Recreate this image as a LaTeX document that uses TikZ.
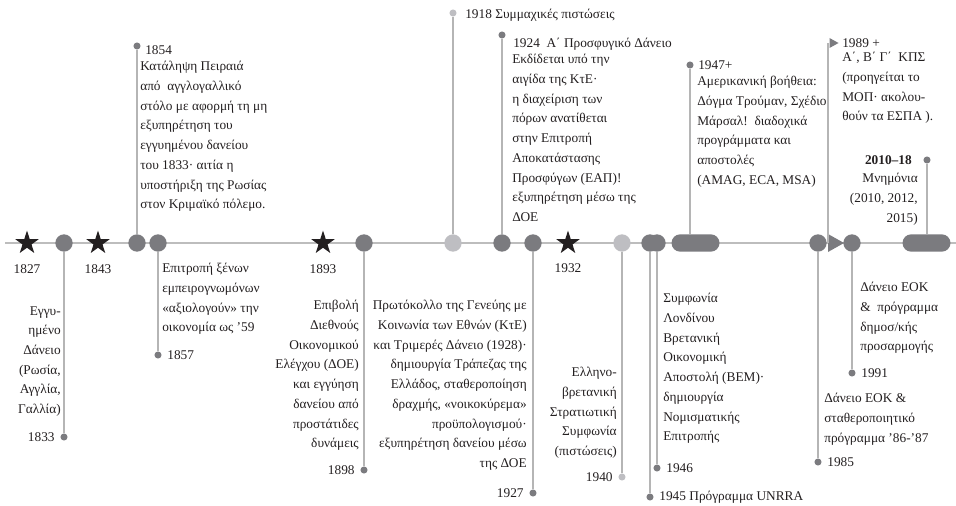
\documentclass[tikz,border=0pt]{standalone}
\usepackage{fontspec}
\setmainfont{Liberation Serif}
\usetikzlibrary{positioning,shapes.geometric,shapes.misc}

\definecolor{axisgray}{HTML}{BDBDBD}
\definecolor{stemgray}{HTML}{B5B5B5}
\definecolor{dotdark}{HTML}{7B7B7F}
\definecolor{dotlight}{HTML}{BEBEC2}
\definecolor{ink}{HTML}{231F20}

\tikzset{
  bigdot/.style={circle, fill=dotdark, minimum size=13pt, inner sep=0pt},
  lightdot/.style={bigdot, fill=dotlight},
  enddot/.style={circle, fill=dotdark, minimum size=5.3pt, inner sep=0pt},
  lightend/.style={enddot, fill=dotlight},
  starmark/.style={star, star points=5, star point ratio=2.6, fill=ink, minimum size=18.5pt, inner sep=0pt},
  pill/.style={rounded rectangle, fill=dotdark, minimum width=36pt, minimum height=13pt, inner sep=0pt},
  stem/.style={draw=stemgray, line width=1.1pt},
  yr/.style={inner sep=0pt, text=ink, font=\fontsize{10}{14.8}\selectfont},
  desc/.style={yr, execute at begin node=\strut},
}

\begin{document}
\begin{tikzpicture}[x=0.75pt, y=-0.75pt]
\useasboundingbox (0,0) rectangle (956,506);

% the time axis
\draw[axisgray, line width=1.65pt] (5,243) coordinate (a0) -- (956,243) coordinate (a1);

% marks on the axis
\node[starmark] (s1827) at (27,243) {};
\node[starmark] (s1843) at (98,243) {};
\node[starmark] (s1893) at (323,243) {};
\node[starmark] (s1932) at (568,243) {};
\node[bigdot] (m1833) at (64,243) {};
\node[bigdot] (m1854) at (137,243) {};
\node[bigdot] (m1857) at (158,243) {};
\node[bigdot] (m1898) at (364,243) {};
\node[lightdot] (m1918) at (453,243) {};
\node[bigdot] (m1924) at (502,243) {};
\node[bigdot] (m1927) at (533,243) {};
\node[lightdot] (m1940) at (622,243) {};
\node[bigdot] (m1945) at (650,243) {};
\node[bigdot] (m1946) at (657,243) {};
\node[pill] (p1947) at (695.5,243) {};
\node[bigdot] (m1985) at (818,243) {};
\node[bigdot] (m1991) at (852,243) {};
\node[pill] (p2010) at (926.5,243) {};
\fill[dotdark] (828,234) coordinate (c1989) -- (844,243) -- (828,252) -- cycle;
\coordinate (b1989) at (828,243);

% ends of the stems
\node[enddot] (e1833) at (64,437) {};
\node[enddot] (e1854) at (137,46) {};
\node[enddot] (e1857) at (158,355) {};
\node[enddot] (e1898) at (364,470) {};
\node[lightend] (e1918) at (453,13) {};
\node[enddot] (e1924) at (502,35) {};
\node[enddot] (e1927) at (533,493) {};
\node[lightend] (e1940) at (622,477) {};
\node[enddot] (e1945) at (650,497) {};
\node[enddot] (e1946) at (657,468) {};
\node[enddot] (e1947) at (690,65) {};
\node[enddot] (e1985) at (818,462) {};
\node[enddot] (e1991) at (852,373) {};
\node[enddot] (e2010) at (927,160) {};
\coordinate (t1989) at (828,43);
\fill[dotdark] (t1989) ++(1.5,-5) -- ++(9,5) -- ++(-9,5) -- cycle;

% stems
\draw[stem] (m1833) -- (e1833);
\draw[stem] (m1854) -- (e1854);
\draw[stem] (m1857) -- (e1857);
\draw[stem] (m1898) -- (e1898);
\draw[stem] (m1918) -- (e1918);
\draw[stem] (m1924) -- (e1924);
\draw[stem] (m1927) -- (e1927);
\draw[stem] (m1940) -- (e1940);
\draw[stem] (m1945) -- (e1945);
\draw[stem] (m1946) -- (e1946);
\draw[stem] (e1947) -- (e1947 |- p1947.north);
\draw[stem] (m1985) -- (e1985);
\draw[stem] (m1991) -- (e1991);
\draw[stem] (e2010) -- (e2010 |- p2010.north);
\draw[stem] (b1989) -- (t1989);

% years under the stars
\node[yr, anchor=base] (y1827) at (27,273) {1827};
\node[yr, anchor=base] (y1843) at (98,273) {1843};
\node[yr, anchor=base] (y1893) at (323,273) {1893};
\node[yr, anchor=base] (y1932) at (568,272) {1932};

% years at the stem ends
\node[yr, left=4pt of e1833] (y1833) {1833};
\node[yr, anchor=base west] (y1854) at (145,55) {1854};
\node[yr, right=4pt of e1857] (y1857) {1857};
\node[yr, left=4pt of e1898] (y1898) {1898};
\node[yr, anchor=base west] (y1918) at (465,19) {1918 Συμμαχικές πιστώσεις};
\node[yr, anchor=base west] (y1924) at (513,48) {1924\enspace Α΄ Προσφυγικό Δάνειο};
\node[yr, left=4pt of e1927] (y1927) {1927};
\node[yr, left=4pt of e1940] (y1940) {1940};
\node[yr, right=4pt of e1945] (y1945) {1945 Πρόγραμμα UNRRA};
\node[yr, right=4pt of e1946] (y1946) {1946};
\node[yr, anchor=base west] (y1947) at (698,70) {1947+};
\node[yr, right=4pt of e1985] (y1985) {1985};
\node[yr, anchor=base west] (y1989) at (842,48) {1989 +};
\node[yr, right=4pt of e1991] (y1991) {1991};
\node[yr, anchor=base east, font=\fontsize{10}{14.8}\selectfont\bfseries] (y2010) at (912,165) {2010–18};

% texts
\node[desc, align=right, anchor=north east] (t1833) at (61,306)
  {Εγγυ-\\ημένο\\Δάνειο\\(Ρωσία,\\Αγγλία,\\Γαλλία)};
\node[desc, align=left, anchor=north west] (t1854) at (140,61)
  {Κατάληψη Πειραιά\\από\enspace αγγλογαλλικό\\στόλο με αφορμή τη μη\\εξυπηρέτηση του\\εγγυημένου δανείου\\του 1833· αιτία η\\υποστήριξη της Ρωσίας\\στον Κριμαϊκό πόλεμο.};
\node[desc, align=left, anchor=north west] (t1857) at (162,263)
  {Επιτροπή ξένων\\εμπειρογνωμόνων\\«αξιολογούν» την\\οικονομία ως ’59};
\node[desc, align=right, anchor=north east] (t1898) at (359,300)
  {Επιβολή\\Διεθνούς\\Οικονομικού\\Ελέγχου (ΔΟΕ)\\και εγγύηση\\δανείου από\\προστάτιδες\\δυνάμεις};
\node[desc, align=left, anchor=north west] (t1924) at (512,54)
  {Εκδίδεται υπό την\\αιγίδα της ΚτΕ·\\η διαχείριση των\\πόρων ανατίθεται\\στην Επιτροπή\\Αποκατάστασης\\Προσφύγων (ΕΑΠ)!\\εξυπηρέτηση μέσω της\\ΔΟΕ};
\node[desc, align=right, anchor=north east] (t1927) at (527,300)
  {Πρωτόκολλο της Γενεύης με\\Κοινωνία των Εθνών (ΚτΕ)\\και Τριμερές Δάνειο (1928)·\\δημιουργία Τράπεζας της\\Ελλάδος, σταθεροποίηση\\δραχμής, «νοικοκύρεμα»\\προϋπολογισμού·\\εξυπηρέτηση δανείου μέσω\\της ΔΟΕ};
\node[desc, align=right, anchor=north east] (t1940) at (617,367)
  {Ελληνο-\\βρετανική\\Στρατιωτική\\Συμφωνία\\(πιστώσεις)};
\node[desc, align=left, anchor=north west] (t1946) at (663,293)
  {Συμφωνία\\Λονδίνου\\Βρετανική\\Οικονομική\\Αποστολή (ΒΕΜ)·\\δημιουργία\\Νομισματικής\\Επιτροπής};
\node[desc, align=left, anchor=north west] (t1947) at (697,76)
  {Αμερικανική βοήθεια:\\Δόγμα Τρούμαν, Σχέδιο\\Μάρσαλ!\enspace διαδοχικά\\προγράμματα και\\αποστολές\\(AMAG, ECA, MSA)};
\node[desc, align=left, anchor=north west] (t1985) at (824,393)
  {Δάνειο ΕΟΚ \&\\σταθεροποιητικό\\πρόγραμμα ’86-’87};
\node[desc, align=left, anchor=north west] (t1989) at (842,52)
  {Α΄, Β΄ Γ΄\enspace ΚΠΣ\\(προηγείται το\\ΜΟΠ· ακολου-\\θούν τα ΕΣΠΑ ).};
\node[desc, align=left, anchor=north west] (t1991) at (860,282)
  {Δάνειο ΕΟΚ\\\&\enspace πρόγραμμα\\δημοσ/κής\\προσαρμογής};
\node[desc, align=right, anchor=north east] (t2010) at (918,173)
  {Μνημόνια\\(2010, 2012,\\2015)};
\end{tikzpicture}
\end{document}
